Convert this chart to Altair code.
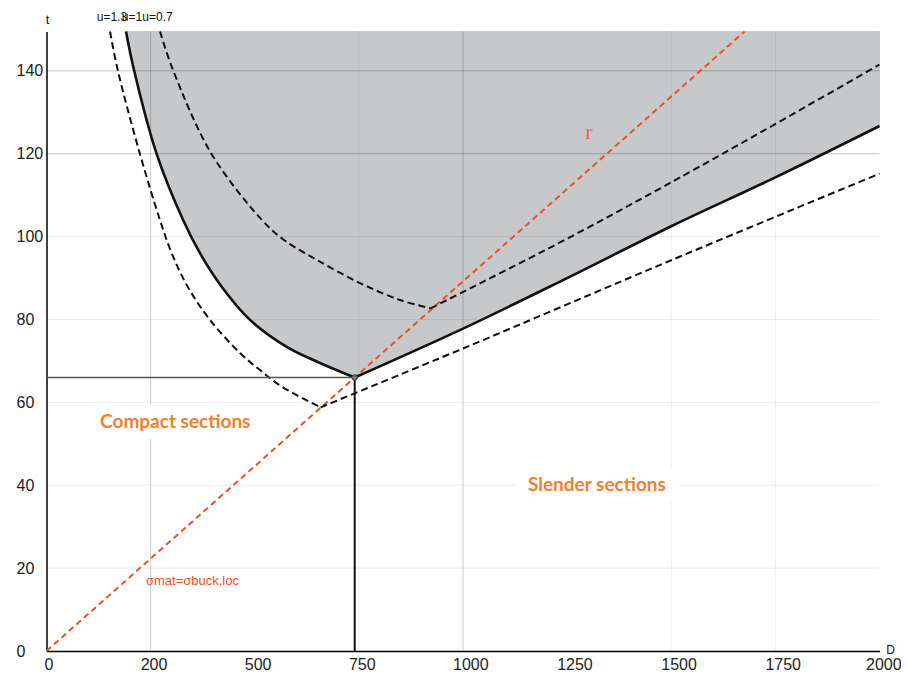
import altair as alt
import pandas as pd

T_TOP = 149.5
D_MAX = 2000

# u = 1 (solid boundary of the shaded region)
u1_left_D = [190.9, 210.1, 264.6, 328.0, 368.5, 420.6, 488.6, 576.7, 656.7, 740.0]
u1_left_t = [149.5, 140.2, 119.9, 104.0, 96.0, 87.9, 79.9, 73.4, 69.5, 66.0]
u1_right_D = [740.0, 1000, 1250, 1500, 1750, 2000]
u1_right_t = [66.0, 77.8, 90.0, 102.5, 114.3, 126.7]

# u = 1.3 (outer dashed)
u13_left_D = [152.5, 171.0, 224.5, 272.5, 300.6, 339.7, 392.6, 464.6, 512.6, 564.7, 658.0]
u13_left_t = [149.5, 140.2, 119.9, 104.0, 96.0, 87.8, 79.9, 71.9, 67.8, 63.8, 58.8]
u13_right_D = [658.0, 1000, 1500, 2000]
u13_right_t = [58.8, 73.0, 94.3, 115.2]

# u = 0.7 (inner dashed)
u07_left_D = [272.5, 303.7, 396.6, 517.4, 570.2, 648.7, 752.7, 848.7, 922.0]
u07_left_t = [149.5, 140.2, 119.9, 104.0, 99.2, 94.4, 88.8, 84.7, 82.7]
u07_right_D = [922.0, 1250, 1570, 2000]
u07_right_t = [82.7, 99.5, 117.0, 141.5]

# r line (sigma_mat = sigma_buck,loc)
r_D = [0, 1676]
r_t = [0, 149.5]

crit_D = 740
crit_t = 66

x_ticks = [0, 250, 500, 750, 1000, 1250, 1500, 1750, 2000]
y_ticks = [0, 20, 40, 60, 80, 100, 120, 140]
grid_strong_t = [120, 140]
grid_faint_t = [20, 40, 60, 80, 100]
grid_strong_D = [250, 1000]
grid_faint_D = [750, 1500, 1750]

u_labels = ["u=1.3", "u=1", "u=0.7"]
u_label_D = [157, 205, 266.5]

region_labels = ["Compact sections", "Slender sections"]
region_D = [309.2, 1321.5]
region_t = [53.8, 38.6]


def branch_df(name, D, t):
    return pd.DataFrame({"D": D, "t": t, "branch": name})


solid = pd.concat([branch_df("L", u1_left_D, u1_left_t), branch_df("R", u1_right_D, u1_right_t)])
solid["top"] = T_TOP
outer = pd.concat([branch_df("L", u13_left_D, u13_left_t), branch_df("R", u13_right_D, u13_right_t)])
inner = pd.concat([branch_df("L", u07_left_D, u07_left_t), branch_df("R", u07_right_D, u07_right_t)])
rline = pd.DataFrame({"D": r_D, "t": r_t})

xscale = alt.Scale(domain=[0, D_MAX], nice=False, zero=False)
yscale = alt.Scale(domain=[0, T_TOP], nice=False, zero=False)

xaxis = alt.Axis(
    values=x_ticks, format="d",
    labelExpr="datum.value == 250 ? '200' : datum.label",
    grid=False, ticks=False, tickSize=0,
    domainColor="black", domainWidth=1.5,
    labelAlign="left", labelBaseline="top", labelPadding=5,
    labelOffset={"condition": [
        {"test": "datum.value === 0", "value": -2.5},
        {"test": "datum.value === 2000", "value": -14},
    ], "value": -10.5},
    labelFont="Liberation Sans", labelFontSize=16, labelColor="#222", labelFlush=False,
    title="D", titleX=843.5, titleY=-1.5, titleAngle=0, titleAlign="center",
    titleBaseline="middle", titleFont="Liberation Sans", titleFontSize=12,
    titleFontWeight="normal", titleColor="#111",
)
yaxis = alt.Axis(
    values=y_ticks, grid=False, ticks=False, tickSize=0,
    domainColor="black", domainWidth=1.5,
    labelAlign="left", labelBaseline="middle", labelPadding=30.5,
    labelFont="Liberation Sans", labelFontSize=16, labelColor="#222", labelFlush=False,
    title="t", titleX=0.5, titleY=-12, titleAngle=0, titleAlign="center",
    titleBaseline="middle", titleFont="Liberation Sans", titleFontSize=13,
    titleFontWeight="normal", titleColor="#111",
)


def X(field="D"):
    return alt.X(field, type="quantitative", scale=xscale, axis=xaxis)


def Y(field="t"):
    return alt.Y(field, type="quantitative", scale=yscale, axis=yaxis)


area = alt.Chart(solid).mark_area(
    color="#c7c8ca", stroke="#c7c8ca", strokeWidth=1, interpolate="catmull-rom", orient="vertical"
).encode(x=X(), y=Y(), y2=alt.Y2("top"), detail="branch:N")

grid_s_h = alt.Chart(pd.DataFrame({"t": grid_strong_t})).mark_rule(
    color="#000", opacity=0.22, strokeWidth=1).encode(y=Y())
grid_f_h = alt.Chart(pd.DataFrame({"t": grid_faint_t})).mark_rule(
    color="#000", opacity=0.08, strokeWidth=1).encode(y=Y())
grid_s_v = alt.Chart(pd.DataFrame({"D": grid_strong_D})).mark_rule(
    color="#000", opacity=0.2, strokeWidth=1).encode(x=X())
grid_f_v = alt.Chart(pd.DataFrame({"D": grid_faint_D})).mark_rule(
    color="#000", opacity=0.07, strokeWidth=1).encode(x=X())

lab_df = pd.DataFrame({"D": region_D, "t": region_t, "label": region_labels})
boxes = alt.Chart(lab_df).mark_rect(color="white", width=162, height=34, yOffset=-6).encode(x=X(), y=Y())

red = alt.Chart(rline).mark_line(color="#F04E23", strokeWidth=2, strokeDash=[6, 4]).encode(x=X(), y=Y())

dash_outer = alt.Chart(outer).mark_line(
    color="#111", strokeWidth=2, strokeDash=[7, 4], interpolate="catmull-rom"
).encode(x=X(), y=Y(), detail="branch:N")
dash_inner = alt.Chart(inner).mark_line(
    color="#111", strokeWidth=2, strokeDash=[7, 4], interpolate="catmull-rom"
).encode(x=X(), y=Y(), detail="branch:N")
solid_line = alt.Chart(solid).mark_line(
    color="#111", strokeWidth=2.6, interpolate="catmull-rom"
).encode(x=X(), y=Y(), detail="branch:N")

crit_df = pd.DataFrame({"D": [crit_D], "t": [crit_t], "zero": [0]})
hrule = alt.Chart(crit_df).mark_rule(color="#555", strokeWidth=1.6).encode(
    x=X("zero"), x2=alt.X2("D"), y=Y())
vrule = alt.Chart(crit_df).mark_rule(color="#111", strokeWidth=2).encode(
    x=X(), y=Y("zero"), y2=alt.Y2("t"))
pt = alt.Chart(crit_df).mark_point(
    filled=True, color="#777", stroke="#333", strokeWidth=1, size=30, opacity=1
).encode(x=X(), y=Y())

region_text = alt.Chart(lab_df).mark_text(
    font="Lato", fontWeight="bold", fontSize=19, color="#EF7F31", align="center", baseline="alphabetic"
).encode(x=X(), y=Y(), text="label:N")

sigma_text = alt.Chart(pd.DataFrame({"D": [350.5], "t": [17.0], "label": ["σmat=σbuck,loc"]})).mark_text(
    font="Liberation Sans", fontSize=13, color="#F0502A", align="center", baseline="middle"
).encode(x=X(), y=Y(), text="label:N")

r_text = alt.Chart(pd.DataFrame({"D": [1302.5], "t": [125.2], "label": ["r"]})).mark_text(
    font="Liberation Serif", fontSize=22, color="#EF6A47", align="center", baseline="middle"
).encode(x=X(), y=Y(), text="label:N")

u_text = alt.Chart(pd.DataFrame({"D": u_label_D, "label": u_labels})).mark_text(
    font="Liberation Sans", fontSize=12, color="#111", align="center", baseline="middle"
).encode(x=X(), y=alt.value(-14.5), text="label:N")

chart = alt.layer(
    area, grid_f_h, grid_s_h, grid_f_v, grid_s_v, boxes, red, dash_outer, dash_inner,
    solid_line, hrule, vrule, pt, region_text, sigma_text, r_text, u_text
).properties(
    width=833, height=619.5,
    autosize=alt.AutoSizeParams(type="none"),
    padding={"left": 38.5, "top": 23.5, "right": 21.5, "bottom": 20.5},
    background="white",
).configure_view(stroke=None)

chart.save("out.html", embed_options={"renderer": "svg", "actions": False})
